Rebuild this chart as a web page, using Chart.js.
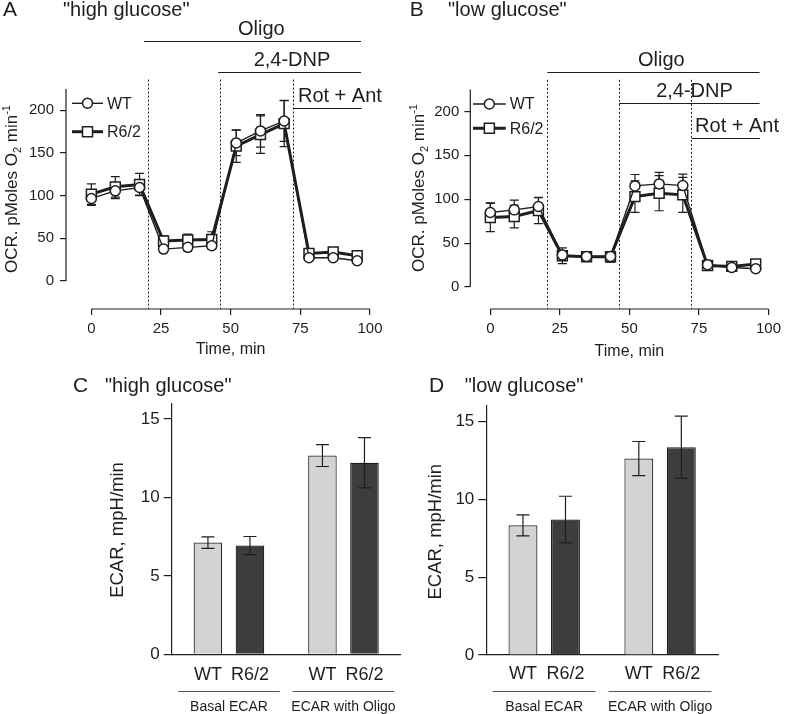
<!DOCTYPE html>
<html>
<head>
<meta charset="utf-8">
<script src="https://cdn.jsdelivr.net/npm/chart.js@4.4.0/dist/chart.umd.min.js"></script>
<style>
  body { margin: 0; background: #fff; }
  #wrap { position: relative; width: 786px; height: 714px; overflow: hidden; }
  canvas { position: absolute; }
</style>
</head>
<body>
<div id="wrap">
  <canvas id="chartA" width="393" height="368" style="left:0;top:0"></canvas>
  <canvas id="chartB" width="393" height="368" style="left:393px;top:0"></canvas>
  <canvas id="chartC" width="410" height="354" style="left:0;top:360px"></canvas>
  <canvas id="chartD" width="393" height="354" style="left:393px;top:360px"></canvas>
</div>
<script>
const FONT = '"Liberation Sans", Arial, Helvetica, sans-serif';
const INK = '#1e1e1e';

// OCR time course (min), same protocol for both runs
const timepoints = [0, 8.6, 17.3, 25.9, 34.6, 43.2, 52.0, 60.7, 69.2, 78.1, 86.8, 95.4];
const injections = [20.3, 46.2, 72.3];
const treatments = ['Oligo', '2,4-DNP', 'Rot + Ant'];
const treatEnd = [96.8, 96.8, 97.0];

// A - high glucose
const wtHigh = [96.7, 105.6, 109.6, 37.4, 39.4, 41.3, 161.8, 175.8, 187.5, 27.3, 27.3, 23.7];
const wtHighErr = [8, 9, 9, 4, 4, 4, 15, 19, 24, 3, 3, 3];
const r62High = [101.8, 110.3, 113.0, 46.8, 48.0, 48.7, 158.0, 171.5, 184.4, 32.3, 33.9, 29.6];
const r62HighErr = [12, 12, 13, 6, 7, 9, 19, 22, 27, 3, 3, 3];
const highTreatStart = [18.9, 45.5, 72.3];
const highTreatLevel = [281, 245, 203];
const highLabelAt = [61, 72, 89.2];

// B - low glucose
const wtLow = [84.9, 87.9, 91.7, 36.4, 34.8, 34.8, 115.2, 117.5, 115.6, 25.4, 22.3, 20.8];
const wtLowErr = [11, 11, 10, 5, 4, 4, 13, 13, 13, 3, 2, 2];
const r62Low = [79.2, 80.3, 87.2, 35.6, 34.5, 34.5, 103.0, 106.9, 105.0, 24.6, 23.5, 26.2];
const r62LowErr = [16, 13, 15, 9, 5, 6, 18, 20, 20, 3, 3, 3];
const lowTreatStart = [20.5, 46.3, 72.4];
const lowTreatLevel = [245.3, 209.3, 169.5];
const lowLabelAt = [61.5, 73.4, 88.7];

// C / D - ECAR
const ecarGroups = ['Basal ECAR', 'ECAR with Oligo'];
const ecarHighWT = [7.12, 12.67];
const ecarHighWTErr = [0.37, 0.70];
const ecarHighR62 = [6.93, 12.21];
const ecarHighR62Err = [0.58, 1.60];
const ecarLowWT = [8.33, 12.62];
const ecarLowWTErr = [0.68, 1.10];
const ecarLowR62 = [8.70, 13.35];
const ecarLowR62Err = [1.50, 2.00];

function drawErrors(chart, cap) {
  const { ctx, scales: { y } } = chart;
  ctx.save();
  ctx.strokeStyle = INK;
  ctx.lineWidth = 1.2;
  chart.data.datasets.forEach((ds, di) => {
    const meta = chart.getDatasetMeta(di);
    meta.data.forEach((el, i) => {
      const raw = ds.data[i];
      const v = typeof raw === 'object' ? raw.y : raw;
      const e = ds.errors[i];
      const top = y.getPixelForValue(v + e), bot = y.getPixelForValue(v - e);
      ctx.beginPath();
      ctx.moveTo(el.x, top); ctx.lineTo(el.x, bot);
      ctx.moveTo(el.x - cap / 2, top); ctx.lineTo(el.x + cap / 2, top);
      ctx.moveTo(el.x - cap / 2, bot); ctx.lineTo(el.x + cap / 2, bot);
      ctx.stroke();
    });
  });
  ctx.restore();
}

const errorBars = {
  id: 'errorBars',
  beforeDatasetsDraw(chart) { if (chart.config.type === 'line') drawErrors(chart, 9); },
  afterDatasetsDraw(chart) { if (chart.config.type === 'bar') drawErrors(chart, 13); }
};

function panelTitle(ctx, letter, lx, text, tx, base) {
  ctx.fillStyle = INK;
  ctx.textAlign = 'left';
  ctx.textBaseline = 'alphabetic';
  ctx.font = `21px ${FONT}`;
  ctx.fillText(letter, lx, base);
  ctx.font = `20px ${FONT}`;
  ctx.fillText(text, tx, base);
}

function rotatedParts(ctx, parts, cx, cy) {
  ctx.save();
  ctx.translate(cx, cy);
  ctx.rotate(-Math.PI / 2);
  ctx.fillStyle = INK;
  ctx.textAlign = 'left';
  ctx.textBaseline = 'middle';
  let total = 0;
  parts.forEach(p => { ctx.font = `${p.size}px ${FONT}`; p.w = ctx.measureText(p.t).width; total += p.w; });
  let x = -total / 2;
  parts.forEach(p => { ctx.font = `${p.size}px ${FONT}`; ctx.fillText(p.t, x, p.dy); x += p.w; });
  ctx.restore();
}

function marker(ctx, style, x, y) {
  ctx.beginPath();
  if (style === 'circle') ctx.arc(x, y, 5, 0, Math.PI * 2);
  else ctx.rect(x - 5, y - 5, 10, 10);
  ctx.fillStyle = '#fff';
  ctx.fill();
  ctx.lineWidth = 1.5;
  ctx.stroke();
}

function ocrDecor(o) {
  return {
    id: 'ocrDecor',
    beforeDatasetsDraw(chart) {
      const { ctx, chartArea: ca, scales: { x, y } } = chart;
      ctx.save();
      ctx.strokeStyle = INK;
      ctx.lineWidth = 1.2;
      // detached axes
      ctx.beginPath();
      ctx.moveTo(x.getPixelForValue(0), ca.bottom);
      ctx.lineTo(x.getPixelForValue(100), ca.bottom);
      ctx.moveTo(ca.left, y.getPixelForValue(0));
      ctx.lineTo(ca.left, y.getPixelForValue(225));
      ctx.stroke();
      // injections
      ctx.lineWidth = 1;
      ctx.setLineDash([2, 2]);
      injections.forEach(t => {
        const px = Math.round(x.getPixelForValue(t)) + 0.5;
        ctx.beginPath();
        ctx.moveTo(px, y.getPixelForValue(236));
        ctx.lineTo(px, ca.bottom);
        ctx.stroke();
      });
      ctx.setLineDash([]);
      // treatment bars
      ctx.lineWidth = 1.2;
      ctx.fillStyle = INK;
      ctx.font = `20px ${FONT}`;
      ctx.textAlign = 'center';
      ctx.textBaseline = 'alphabetic';
      treatments.forEach((name, i) => {
        const py = Math.round(y.getPixelForValue(o.level[i])) + 0.5;
        ctx.beginPath();
        ctx.moveTo(x.getPixelForValue(o.start[i]), py);
        ctx.lineTo(x.getPixelForValue(treatEnd[i]), py);
        ctx.stroke();
        ctx.fillText(name, x.getPixelForValue(o.labelAt[i]), py - 7);
      });
      ctx.restore();
    },
    afterDraw(chart) {
      const { ctx, chartArea: ca, scales: { x } } = chart;
      ctx.save();
      ctx.strokeStyle = INK;
      // legend
      [['WT', 'circle', 1.4], ['R6/2', 'rect', 3]].forEach(([label, style, lw], i) => {
        const ly = o.legendRows[i];
        const x0 = ca.left + o.legendX, x1 = x0 + o.legendLen;
        ctx.lineWidth = lw;
        ctx.beginPath(); ctx.moveTo(x0, ly); ctx.lineTo(x1, ly); ctx.stroke();
        marker(ctx, style, (x0 + x1) / 2, ly);
        ctx.fillStyle = INK;
        ctx.font = `16px ${FONT}`;
        ctx.textAlign = 'left';
        ctx.textBaseline = 'middle';
        ctx.fillText(label, x1 + 4, ly + 1);
      });
      // axis titles
      ctx.font = `16px ${FONT}`;
      ctx.textAlign = 'center';
      ctx.textBaseline = 'middle';
      ctx.fillText('Time, min', x.getPixelForValue(50), o.timeY);
      rotatedParts(ctx, [
        { t: 'OCR. pMoles O', size: 17, dy: 0 },
        { t: '2', size: 11, dy: 5 },
        { t: ' min', size: 17, dy: 0 },
        { t: '-1', size: 11, dy: -6 }
      ], o.yTitle[0], o.yTitle[1]);
      panelTitle(ctx, o.letter, o.letterX, o.subtitle, o.subtitleX, 16);
      ctx.restore();
    }
  };
}

function ocrChart(id, wt, wtErr, r62, r62Err, o) {
  const pts = arr => timepoints.map((t, i) => ({ x: t, y: arr[i] }));
  return new Chart(document.getElementById(id), {
    type: 'line',
    data: {
      datasets: [
        { label: 'WT', data: pts(wt), errors: wtErr, borderColor: INK, borderWidth: 1.4,
          pointStyle: 'circle', pointRadius: 5, pointBorderWidth: 1.5,
          pointBackgroundColor: '#fff', pointBorderColor: INK, order: 0 },
        { label: 'R6/2', data: pts(r62), errors: r62Err, borderColor: INK, borderWidth: 3,
          pointStyle: 'rect', pointRadius: 7, pointBorderWidth: 1.5,
          pointBackgroundColor: '#fff', pointBorderColor: INK, order: 1 }
      ]
    },
    options: {
      responsive: false,
      animation: false,
      layout: { padding: { top: 88, left: o.padLeft, right: o.padRight, bottom: 0 } },
      plugins: { legend: { display: false }, tooltip: { enabled: false } },
      scales: {
        x: {
          type: 'linear', min: o.xMin, max: 100,
          afterBuildTicks: s => { s.ticks = [0, 25, 50, 75, 100].map(v => ({ value: v })); },
          afterFit: s => { s.height = 59; },
          grid: { drawOnChartArea: false, tickLength: 6, color: INK, lineWidth: 1.2 },
          border: { display: false },
          ticks: { color: INK, font: { family: FONT, size: 15 }, padding: 5, maxRotation: 0 }
        },
        y: {
          min: o.yMin, max: o.yMax,
          afterBuildTicks: s => { s.ticks = [0, 50, 100, 150, 200].map(v => ({ value: v })); },
          afterFit: s => { s.width = 40; },
          grid: { drawOnChartArea: false, tickLength: 6, color: INK, lineWidth: 1.2 },
          border: { display: false },
          ticks: { color: INK, font: { family: FONT, size: 15 }, padding: o.yPad }
        }
      }
    },
    plugins: [ocrDecor(o), errorBars]
  });
}

function ecarDecor(o) {
  return {
    id: 'ecarDecor',
    afterDraw(chart) {
      const { ctx, chartArea: ca, scales: { x } } = chart;
      ctx.save();
      ctx.fillStyle = INK;
      ctx.font = `18px ${FONT}`;
      ctx.textAlign = 'center';
      ctx.textBaseline = 'middle';
      chart.data.datasets.forEach((ds, di) => {
        chart.getDatasetMeta(di).data.forEach(el => {
          ctx.fillText(ds.label, el.x, ca.bottom + o.catY);
        });
      });
      // group underlines
      const half = (x.getPixelForValue(1) - x.getPixelForValue(0)) * 0.444;
      ctx.strokeStyle = '#555';
      ctx.lineWidth = 1;
      ecarGroups.forEach((g, j) => {
        const cx = x.getPixelForValue(j);
        const py = Math.round(ca.bottom + o.lineY) + 0.5;
        ctx.beginPath(); ctx.moveTo(cx - half, py); ctx.lineTo(cx + half, py); ctx.stroke();
      });
      rotatedParts(ctx, [{ t: 'ECAR, mpH/min', size: 18.5, dy: 0 }], o.yTitle[0], o.yTitle[1]);
      panelTitle(ctx, o.letter, o.letterX, o.subtitle, o.subtitleX, 31.7);
      ctx.restore();
    }
  };
}

function ecarChart(id, wt, wtErr, r62, r62Err, o) {
  return new Chart(document.getElementById(id), {
    type: 'bar',
    data: {
      labels: ecarGroups,
      datasets: [
        { label: 'WT', data: wt, errors: wtErr, backgroundColor: '#d3d3d3', borderColor: '#2a2a2a',
          borderWidth: 1.2, categoryPercentage: 0.734, barPercentage: 0.68 },
        { label: 'R6/2', data: r62, errors: r62Err, backgroundColor: '#3d3d3d', borderColor: '#1a1a1a',
          borderWidth: 1.2, categoryPercentage: 0.734, barPercentage: 0.68 }
      ]
    },
    options: {
      responsive: false,
      animation: false,
      layout: { padding: { top: o.top, left: o.padLeft, right: o.padRight, bottom: 0 } },
      plugins: { legend: { display: false }, tooltip: { enabled: false } },
      scales: {
        x: {
          afterFit: s => { s.height = o.xHeight; s.paddingLeft = 0; s.paddingRight = 0; },
          grid: { display: false, drawTicks: false },
          border: { color: INK, width: 1.2 },
          ticks: { color: INK, font: { family: FONT, size: 14 }, padding: 44, maxRotation: 0, autoSkip: false }
        },
        y: {
          min: 0, max: 16,
          afterBuildTicks: s => { s.ticks = [0, 5, 10, 15].map(v => ({ value: v })); },
          afterFit: s => { s.width = 60; },
          grid: { drawOnChartArea: false, tickLength: 8, color: INK, lineWidth: 1.2 },
          border: { color: INK, width: 1.2 },
          ticks: { color: INK, font: { family: FONT, size: 17 }, padding: 4 }
        }
      }
    },
    plugins: [ecarDecor(o), errorBars]
  });
}

ocrChart('chartA', wtHigh, wtHighErr, r62High, r62HighErr, {
  padLeft: 26, padRight: 23, xMin: -9.1, yMin: -32.8, yMax: 226.1, yPad: 6,
  start: highTreatStart, level: highTreatLevel, labelAt: highLabelAt,
  legendX: 6, legendLen: 31, legendRows: [103.3, 131.7],
  timeY: 350, yTitle: [12.5, 189],
  letter: 'A', letterX: 3, subtitle: '"high glucose"', subtitleX: 63
});

ocrChart('chartB', wtLow, wtLowErr, r62Low, r62LowErr, {
  padLeft: 37.3, padRight: 12.3, xMin: -7.2, yMin: -25, yMax: 226.7, yPad: 5,
  start: lowTreatStart, level: lowTreatLevel, labelAt: lowLabelAt,
  legendX: 2.7, legendLen: 32.7, legendRows: [104, 128.3],
  timeY: 351.7, yTitle: [26.7, 188],
  letter: 'B', letterX: 16.7, subtitle: '"low glucose"', subtitleX: 55
});

ecarChart('chartC', ecarHighWT, ecarHighWTErr, ecarHighR62, ecarHighR62Err, {
  top: 43.3, padLeft: 111.7, padRight: 9.3, xHeight: 59.7,
  catY: 20.7, lineY: 36.4, yTitle: [118, 170],
  letter: 'C', letterX: 73, subtitle: '"high glucose"', subtitleX: 105
});

ecarChart('chartD', ecarLowWT, ecarLowWTErr, ecarLowR62, ecarLowR62Err, {
  top: 46, padLeft: 33.3, padRight: 68, xHeight: 59,
  catY: 19, lineY: 36, yTitle: [43.3, 171.7],
  letter: 'D', letterX: 36, subtitle: '"low glucose"', subtitleX: 71.7
});
</script>
</body>
</html>
